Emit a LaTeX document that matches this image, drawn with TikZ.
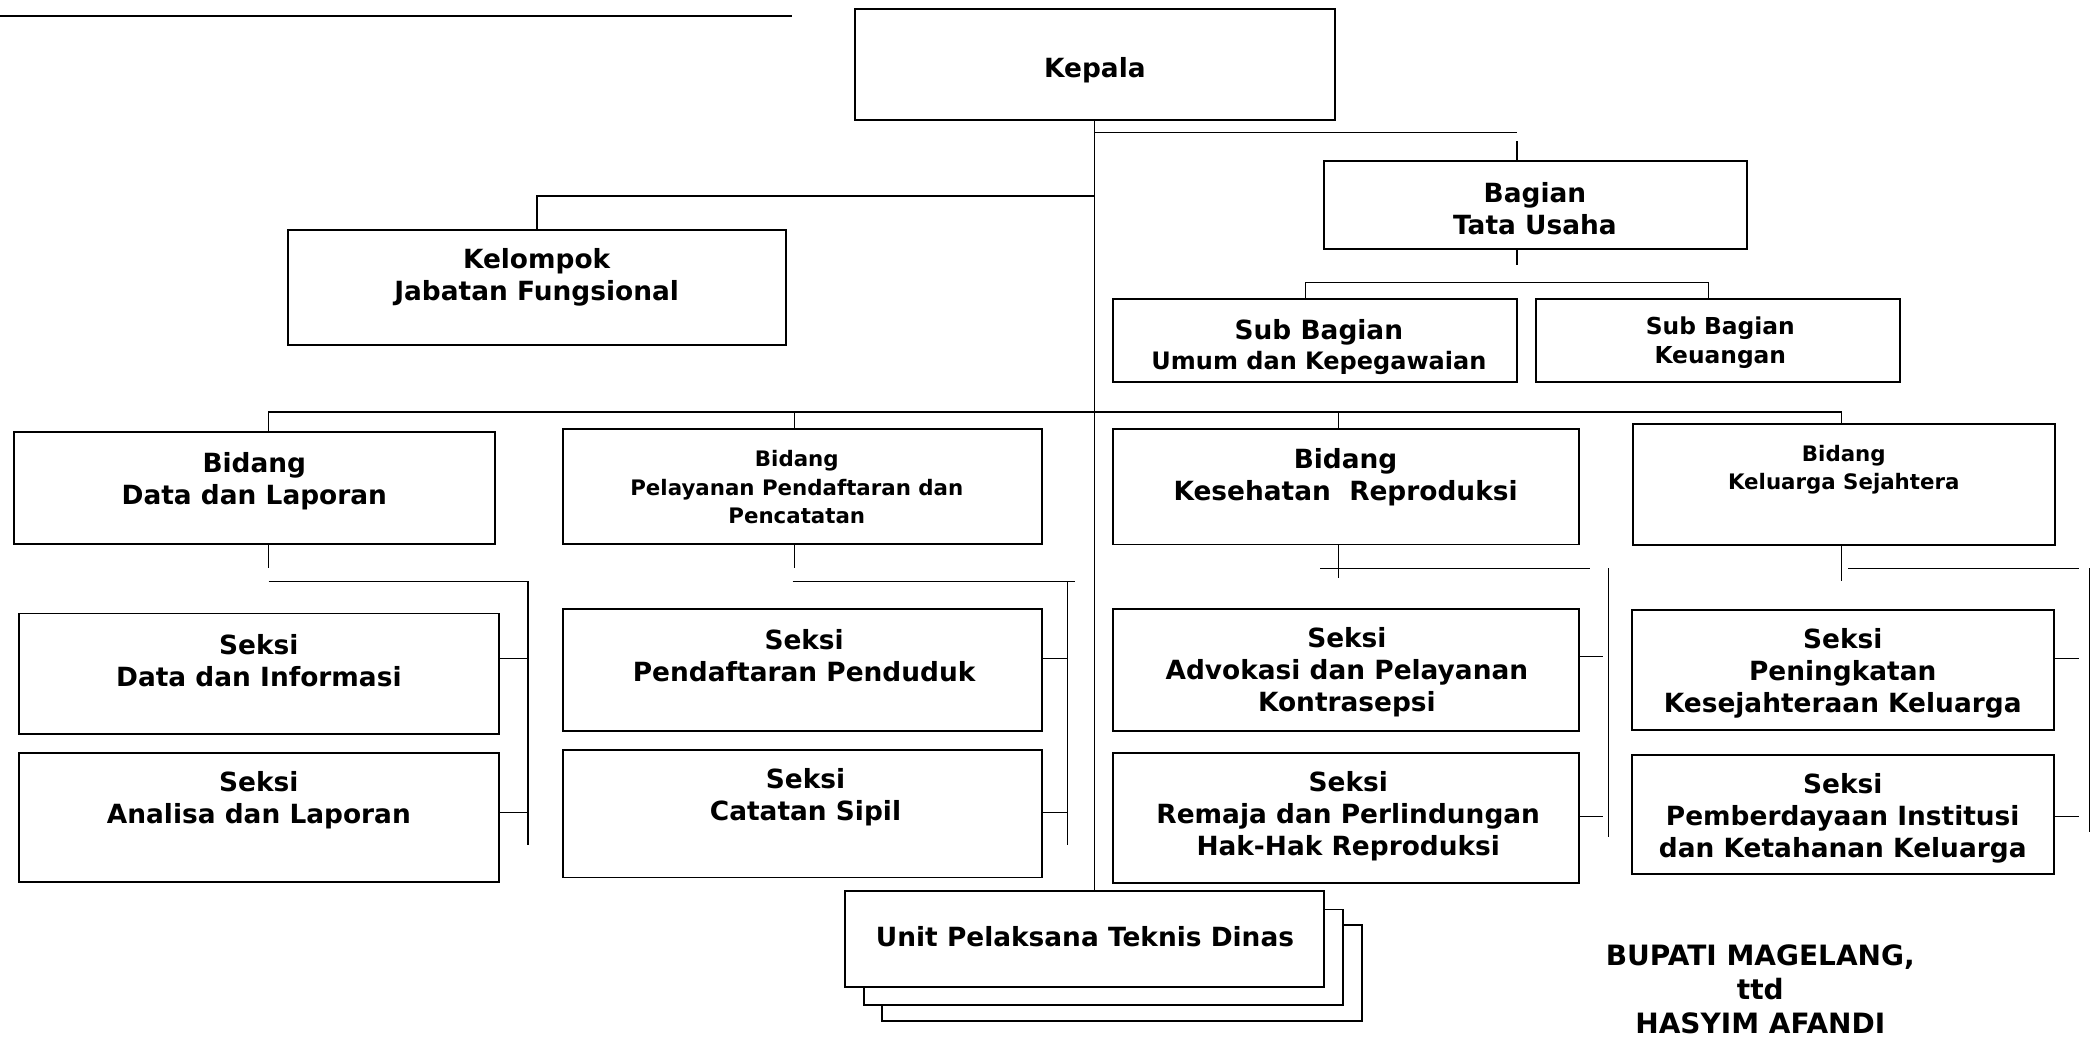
\documentclass[tikz,border=0pt]{standalone}
\usepackage{fontspec}
\setmainfont{DejaVu Sans}
\usepackage{tikz}
\usetikzlibrary{positioning}
\usetikzlibrary{calc}

\tikzset{
  unit/.style 2 args={draw, line width=1.4pt, fill=white, inner sep=0pt, outer sep=0pt,
    minimum width=#1pt, minimum height=#2pt},
  big/.style={font=\fontsize{19.8}{24}\selectfont\bfseries, align=center, inner sep=0pt},
  small/.style={font=\fontsize{16}{21.3}\selectfont\bfseries, align=center, inner sep=0pt},
  link/.style={line width=0.9pt},
}

\begin{document}
\begin{tikzpicture}[x=1pt,y=-1pt]
\useasboundingbox (0,0) rectangle (1568,780);

%top rule
\coordinate (ruleL) at (0,12);
\coordinate (ruleR) at (594,12);
\draw[line width=1.3pt] (ruleL)--(ruleR);

%upper level
\node[unit={360}{83}] (kep) at (821,48.5) {};
\node[unit={374}{86}] (kjf) at (402.7,215.6) {};
\node[unit={317}{66}] (tu) at (1151.4,153.9) {};
\node[unit={303}{62}] (sbu) at (986,255.3) {};
\node[unit={273}{62}, right=14.4pt of sbu] (sbk) {};

%bidang
\node[unit={360.4}{84}] (bdl) at (190.7,366) {};
\node[unit={359.3}{86.5}] (bpp) at (602,365) {};
\node[unit={349.4}{86.6}] (bkr) at (1009.3,365) {};
\node[unit={316.4}{90.3}] (bks) at (1382.8,363.2) {};

%seksi
\node[unit={360}{90.5}] (sdi) at (194,505.3) {};
\node[unit={360}{97}, below=13.9pt of sdi] (sal) {};
\node[unit={359.3}{91.2}] (spp) at (602,502.4) {};
\node[unit={359.3}{95.6}, below=14.4pt of spp] (scs) {};
\node[unit={349.4}{91.3}] (sap) at (1009.3,502.4) {};
\node[unit={349.4}{97.6}, below=16.4pt of sap] (srp) {};
\node[unit={316.5}{90}] (spk) at (1381.8,502.4) {};
\node[unit={316.5}{89.5}, below=18.5pt of spk] (spi) {};

%unit pelaksana, stacked
\coordinate (uptc) at (813.4,704);
\node[unit={359.6}{72}] (upt3) at ($(uptc)+(27.8,25.6)$) {};
\node[unit={359}{71.6}] (upt2) at ($(uptc)+(14.1,13.8)$) {};
\node[unit={359.2}{72}] (upt) at (uptc) {};

%texts
\node[big] (kepT) at (821,53) {Kepala};
\node[big] (kjfT) at (402.4,208) {Kelompok\\Jabatan Fungsional};
\node[big] (tuT) at (1151,156.5) {Bagian\\Tata Usaha};
\node[font=\fontsize{18}{22.5}\selectfont\bfseries, align=center, inner sep=0pt] (sbuT) at (989,260)
  {{\fontsize{19.8}{22.5}\selectfont Sub Bagian}\\Umum dan Kepegawaian};
\node[font=\fontsize{17.5}{22}\selectfont\bfseries, align=center, inner sep=0pt] (sbkT) at (1290,257)
  {Sub Bagian\\Keuangan};
\node[big] (bdlT) at (190.7,360.7) {Bidang\\Data dan Laporan};
\node[small] (bppT) at (597.5,365.5) {Bidang\\Pelayanan Pendaftaran dan\\Pencatatan};
\node[big] (bkrT) at (1009,357.5) {Bidang\\Kesehatan\ \ Reproduksi};
\node[small] (bksT) at (1382.6,352) {Bidang\\Keluarga Sejahtera};
\node[big] (sdiT) at (194.1,495.1) {Seksi\\Data dan Informasi};
\node[big] (salT) at (194.1,599.7) {Seksi\\Analisa dan Laporan};
\node[big] (sppT) at (603,492) {Seksi\\Pendaftaran Penduduk};
\node[big] (scsT) at (604,597.8) {Seksi\\Catatan Sipil};
\node[big] (sapT) at (1010,504.2) {Seksi\\Advokasi dan Pelayanan\\Kontrasepsi};
\node[big] (srpT) at (1011,612.3) {Seksi\\Remaja dan Perlindungan\\Hak-Hak Reproduksi};
\node[big] (spkT) at (1381.8,504.6) {Seksi\\Peningkatan\\Kesejahteraan Keluarga};
\node[big] (spiT) at (1381.8,613.6) {Seksi\\Pemberdayaan Institusi\\dan Ketahanan Keluarga};
\node[big] (uptT) at (813.6,702.5) {Unit Pelaksana Teknis Dinas};
\node[font=\fontsize{21}{25.5}\selectfont\bfseries, align=center, inner sep=0pt] (ttd) at (1320,742)
  {BUPATI MAGELANG,\\ttd\\HASYIM AFANDI};

%trunk and upper branches
\draw[link] (kep.south)--(kep.south |- upt.north);
\coordinate (kjfJ) at (821,147);
\draw[link] (kjfJ) -| (kjf.north);
\coordinate (tuJ) at (821,99.5);
\coordinate (tuR) at (1137.6,99.5);
\coordinate (tuTop) at (1137.6,106);
\coordinate (tuBot) at (1137.6,198.7);
\draw[link] (tuJ)--(tuR);
\draw[link] (tuTop)--(tuTop |- tu.north);
\draw[link] (tu.south -| tuBot)--(tuBot);
\coordinate (sbL) at (979,212);
\coordinate (sbR) at (1281,212);
\draw[link] (sbu.north -| sbL) |- (sbR)--(sbk.north -| sbR);

%main bus
\coordinate (busL) at (201.5,309);
\coordinate (busP) at (596,309);
\coordinate (busK) at (1004,309);
\coordinate (busR) at (1381,309);
\draw[link] (bdl.north -| busL) |- (busR)--(busR |- bks.north);
\draw[link] (busP)--(busP |- bpp.north);
\draw[link] (busK)--(busK |- bkr.north);

%data dan laporan
\coordinate (dA) at (201.5,426);
\coordinate (dB) at (201.5,436.2);
\coordinate (dC) at (396,436.2);
\coordinate (dD) at (396,633.7);
\coordinate (dT1) at (396,493.6);
\coordinate (dT2) at (396,609);
\draw[link] (bdl.south -| dA)--(dA);
\draw[link] (dB)--(dC)--(dD);
\draw[link] (sdi.east |- dT1)--(dT1);
\draw[link] (sal.east |- dT2)--(dT2);

%pelayanan pendaftaran
\coordinate (pA) at (596,426);
\coordinate (pB) at (594.4,436.2);
\coordinate (pC) at (805.9,436.2);
\coordinate (pV) at (800.6,436.2);
\coordinate (pD) at (800.6,633.7);
\coordinate (pT1) at (800.6,493.7);
\coordinate (pT2) at (800.6,609.4);
\draw[link] (bpp.south -| pA)--(pA);
\draw[link] (pB)--(pC);
\draw[link] (pV)--(pD);
\draw[link] (spp.east |- pT1)--(pT1);
\draw[link] (scs.east |- pT2)--(pT2);

%kesehatan reproduksi
\coordinate (kA) at (1004,433.5);
\coordinate (kB) at (990,426);
\coordinate (kC) at (1192.5,426);
\coordinate (kV) at (1206,426);
\coordinate (kD) at (1206,627.7);
\coordinate (kT1) at (1202,492.4);
\coordinate (kT2) at (1202,612.4);
\draw[link] (bkr.south -| kA)--(kA);
\draw[link] (kB)--(kC);
\draw[link] (kV)--(kD);
\draw[link] (sap.east |- kT1)--(kT1);
\draw[link] (srp.east |- kT2)--(kT2);

%keluarga sejahtera
\coordinate (sA) at (1381,435.7);
\coordinate (sB) at (1386,426);
\coordinate (sC) at (1559,426);
\coordinate (sV) at (1566.6,426);
\coordinate (sD) at (1566.6,624);
\coordinate (sT1) at (1559,493.7);
\coordinate (sT2) at (1559,612.4);
\draw[link] (bks.south -| sA)--(sA);
\draw[link] (sB)--(sC);
\draw[link] (sV)--(sD);
\draw[link] (spk.east |- sT1)--(sT1);
\draw[link] (spi.east |- sT2)--(sT2);
\end{tikzpicture}
\end{document}
